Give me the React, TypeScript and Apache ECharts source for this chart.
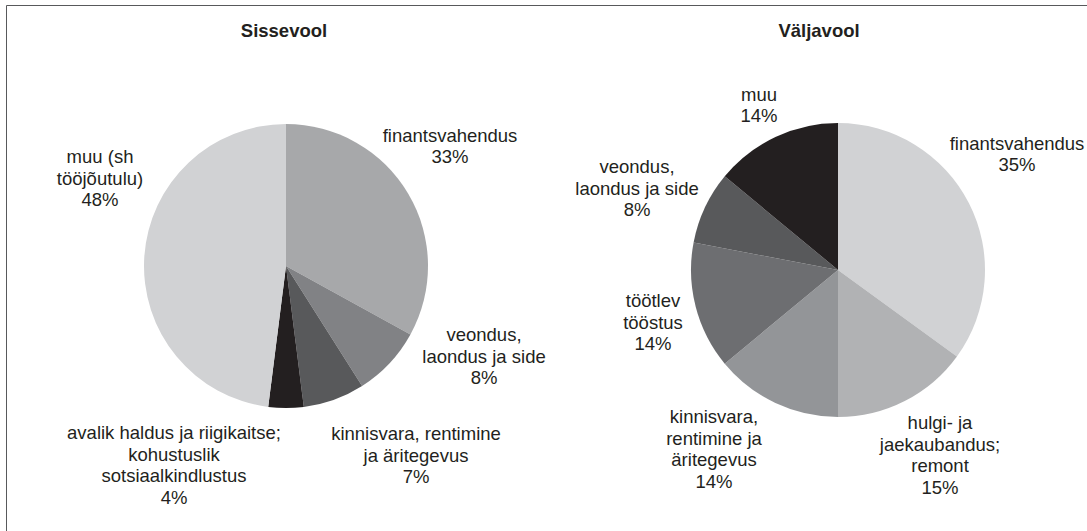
import React, { useEffect, useRef } from "react";
import * as echarts from "echarts";

const inflowNames = [
  "finantsvahendus",
  "veondus,\nlaondus ja side",
  "kinnisvara, rentimine\nja äritegevus",
  "avalik haldus ja riigikaitse;\nkohustuslik\nsotsiaalkindlustus",
  "muu (sh\ntööjõutulu)",
];
const inflowValues = [33, 8, 7, 4, 48];
const inflowColors = ["#a7a8aa", "#818285", "#58595b", "#231f20", "#d1d2d4"];

const outflowNames = [
  "finantsvahendus",
  "hulgi- ja\njaekaubandus;\nremont",
  "kinnisvara,\nrentimine ja\näritegevus",
  "töötlev\ntööstus",
  "veondus,\nlaondus ja side",
  "muu",
];
const outflowValues = [35, 15, 14, 14, 8, 14];
const outflowColors = ["#d1d2d4", "#b1b2b4", "#939598", "#6d6e71", "#58595b", "#231f20"];

const titles = ["Sissevool", "Väljavool"];

// label anchor positions (layout)
const inflowLabelPos = [
  [450, 146],
  [484, 356],
  [416, 455],
  [174, 465],
  [100, 178],
];
const outflowLabelPos = [
  [1017, 154],
  [940, 455],
  [714, 449],
  [653, 322],
  [637, 188],
  [759, 105],
];

const FONT = "'Liberation Sans', Arial, Helvetica, sans-serif";
const TEXT = "#231f20";

export default function App() {
  const ref = useRef<HTMLDivElement>(null);
  useEffect(() => {
    if (!ref.current) return;
    const chart = echarts.init(ref.current, undefined, { renderer: "svg" });
    const mk = (names: string[], values: number[], colors: string[], pos: number[][], center: number[], radius: number) => ({
      type: "pie",
      center,
      radius,
      startAngle: 90,
      clockwise: true,
      avoidLabelOverlap: false,
      data: names.map((n, i) => ({ name: n, value: values[i], itemStyle: { color: colors[i] } })),
      itemStyle: { borderWidth: 0 },
      label: {
        show: true,
        position: "outside",
        formatter: (p: any) => `${p.name}\n${p.value}%`,
        fontFamily: FONT,
        fontSize: 18.5,
        lineHeight: 21.5,
        color: TEXT,
        align: "center",
      },
      labelLine: { show: false },
      labelLayout: (params: any) => ({
        x: pos[params.dataIndex][0],
        y: pos[params.dataIndex][1],
        align: "center",
        verticalAlign: "middle",
      }),
      emphasis: { disabled: true },
      silent: true,
    });
    chart.setOption({
      animation: false,
      backgroundColor: "#ffffff",
      graphic: [
        {
          type: "rect",
          shape: { x: 6.5, y: 5.5, width: 1100, height: 560 },
          style: { fill: "none", stroke: "#58595b", lineWidth: 1 },
          silent: true,
        },
        {
          type: "text",
          x: 284,
          y: 30,
          style: {
            text: titles[0],
            fontFamily: FONT,
            fontSize: 18.5,
            fontWeight: "bold",
            fill: TEXT,
            align: "center",
            verticalAlign: "middle",
          },
          silent: true,
        },
        {
          type: "text",
          x: 819,
          y: 30,
          style: {
            text: titles[1],
            fontFamily: FONT,
            fontSize: 18.5,
            fontWeight: "bold",
            fill: TEXT,
            align: "center",
            verticalAlign: "middle",
          },
          silent: true,
        },
      ],
      series: [
        mk(inflowNames, inflowValues, inflowColors, inflowLabelPos, [286, 266], 142),
        mk(outflowNames, outflowValues, outflowColors, outflowLabelPos, [838, 270], 147),
      ],
    });
    return () => chart.dispose();
  }, []);
  return (
    <div
      ref={ref}
      style={{ position: "absolute", left: 0, top: 0, width: 1087, height: 531 }}
    />
  );
}
